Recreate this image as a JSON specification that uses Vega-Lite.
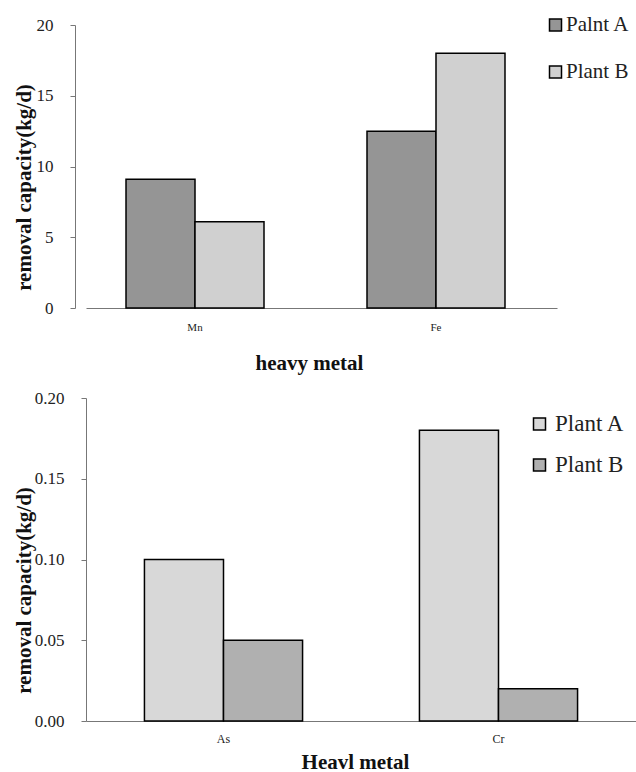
{
  "$schema": "https://vega.github.io/schema/vega-lite/v6.json",
  "padding": {"left": 13, "top": 14, "right": 0, "bottom": 0},
  "spacing": 16,
  "background": "white",
  "resolve": {"scale": {"color": "independent", "x": "independent", "xOffset": "independent", "y": "independent"}, "legend": {"color": "independent"}, "axis": {"x": "independent", "y": "independent"}},
  "config": {
    "view": {"stroke": null},
    "font": "Liberation Serif",
    "axis": {"labelFont": "Liberation Serif", "titleFont": "Liberation Serif", "labelColor": "#222", "titleColor": "#111", "domainColor": "#777", "tickColor": "#777", "grid": false, "titleFontWeight": "bold"},
    "legend": {"labelFont": "Liberation Serif", "labelColor": "#222", "symbolType": "square", "symbolSize": 144, "symbolStrokeColor": "black", "symbolStrokeWidth": 1.5, "padding": 0}
  },
  "datasets": {
    "top": [
      {"metal": "Mn", "plant": "Palnt A", "value": 9.1},
      {"metal": "Mn", "plant": "Plant B", "value": 6.1},
      {"metal": "Fe", "plant": "Palnt A", "value": 12.5},
      {"metal": "Fe", "plant": "Plant B", "value": 18.0}
    ],
    "bottom": [
      {"metal": "As", "plant": "Plant A", "value": 0.10},
      {"metal": "As", "plant": "Plant B", "value": 0.05},
      {"metal": "Cr", "plant": "Plant A", "value": 0.18},
      {"metal": "Cr", "plant": "Plant B", "value": 0.02}
    ]
  },
  "vconcat": [
    {
      "width": 471,
      "height": 283,
      "data": {"name": "top"},
      "mark": {"type": "bar", "stroke": "black", "strokeWidth": 1.5},
      "encoding": {
        "x": {"field": "metal", "type": "nominal", "sort": ["Mn", "Fe"], "scale": {"paddingInner": 0.4274, "paddingOuter": 0.1909, "align": 0.4348},
          "axis": {"title": "heavy metal", "labelAngle": 0, "ticks": false, "labelPadding": 13, "labelFont": "Liberation Serif", "labelFontSize": 11, "titleFontSize": 21, "titlePadding": 20, "titleX": 223}},
        "xOffset": {"field": "plant", "type": "nominal", "sort": ["Palnt A", "Plant B"]},
        "y": {"field": "value", "type": "quantitative", "scale": {"domain": [0, 20]},
          "axis": {"title": "removal capacity(kg/d)", "offset": 11, "values": [0, 5, 10, 15, 20], "format": "d", "labelFont": "Liberation Serif", "labelFontSize": 17, "tickSize": 5, "labelPadding": 17, "titleFontSize": 21, "titleX": -41, "titleY": 162, "titleBaseline": "bottom"}},
        "color": {"field": "plant", "type": "nominal", "scale": {"domain": ["Palnt A", "Plant B"], "range": ["#959595", "#d0d0d0"]},
          "legend": {"title": null, "orient": "none", "legendX": 459, "legendY": -10.5, "labelFont": "Liberation Serif", "labelFontSize": 21, "rowPadding": 25, "labelOffset": 0}}
      }
    },
    {
      "width": 550,
      "height": 323,
      "data": {"name": "bottom"},
      "mark": {"type": "bar", "stroke": "black", "strokeWidth": 1.5},
      "encoding": {
        "x": {"field": "metal", "type": "nominal", "sort": ["As", "Cr"], "scale": {"paddingInner": 0.425, "paddingOuter": 0.2125},
          "axis": {"title": "Heavl metal", "labelAngle": 0, "ticks": false, "labelPadding": 12, "labelFont": "Liberation Serif", "labelFontSize": 12, "titleFontSize": 21, "titlePadding": 7, "titleX": 269}},
        "xOffset": {"field": "plant", "type": "nominal", "sort": ["Plant A", "Plant B"]},
        "y": {"field": "value", "type": "quantitative", "scale": {"domain": [0, 0.2]},
          "axis": {"title": "removal capacity(kg/d)", "values": [0, 0.05, 0.1, 0.15, 0.2], "format": ".2f", "labelFont": "Liberation Serif", "labelFontSize": 17, "tickSize": 5, "labelPadding": 17, "titleFontSize": 21, "titleX": -52, "titleY": 192, "titleBaseline": "bottom"}},
        "color": {"field": "plant", "type": "nominal", "scale": {"domain": ["Plant A", "Plant B"], "range": ["#d8d8d8", "#b0b0b0"]},
          "legend": {"title": null, "orient": "none", "legendX": 442, "legendY": 14.5, "labelFont": "Liberation Serif", "labelFontSize": 23, "rowPadding": 17, "labelOffset": 4}}
      }
    }
  ]
}
